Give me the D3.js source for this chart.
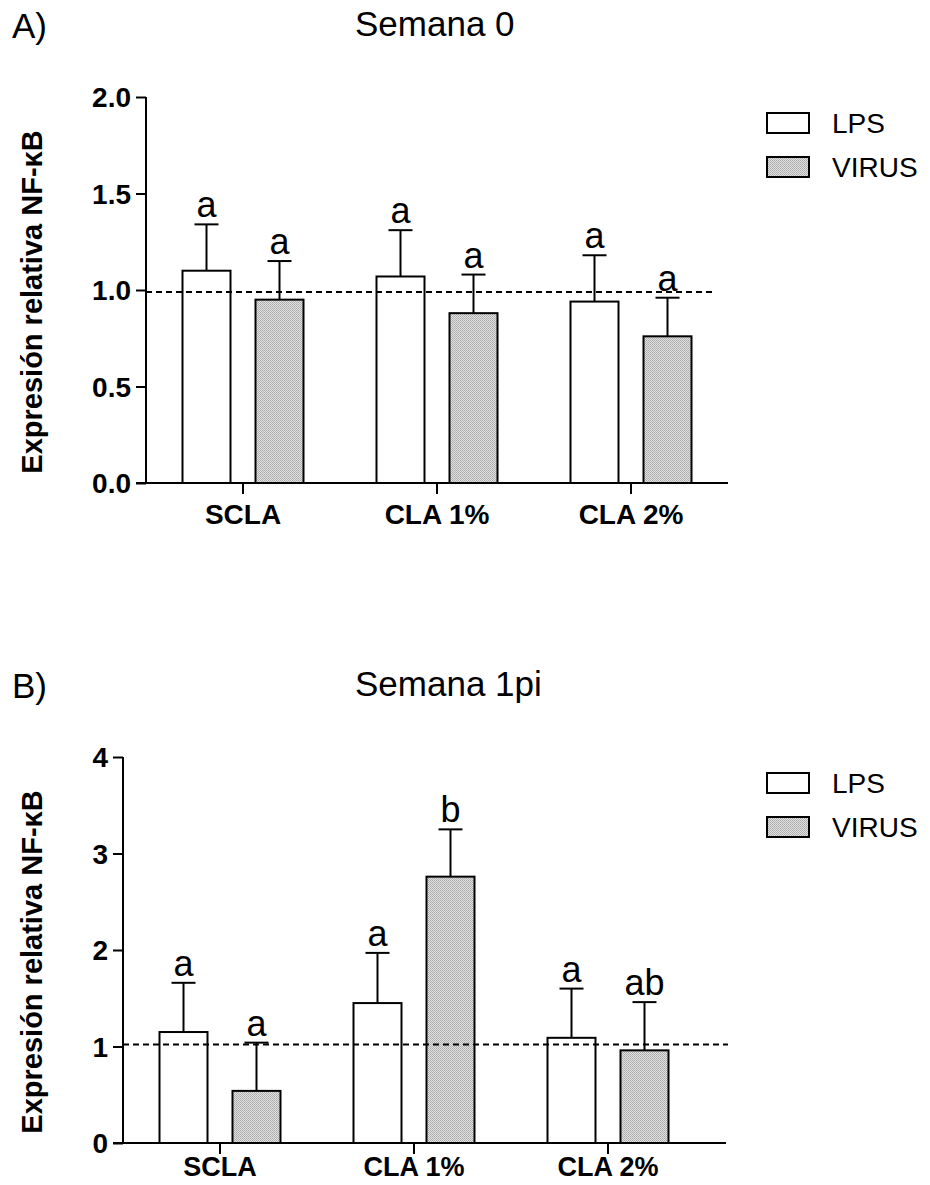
<!DOCTYPE html>
<html>
<head>
<meta charset="utf-8">
<script src="https://cdn.jsdelivr.net/npm/d3@7"></script>
<style>
  html, body { margin: 0; padding: 0; background: #fff; }
  svg { display: block; }
  text { font-family: "Liberation Sans", Arial, Helvetica, sans-serif; fill: #000; }
</style>
</head>
<body>
<svg id="chart" width="930" height="1185"></svg>
<script>
// ---------- DATA ----------
const categories = ["SCLA", "CLA 1%", "CLA 2%"];
const seriesNames = ["LPS", "VIRUS"];

// Panel A: Semana 0
const week0LPS = [1.10, 1.07, 0.94];
const week0LPSsem = [0.24, 0.24, 0.24];
const week0VIRUS = [0.95, 0.88, 0.76];
const week0VIRUSsem = [0.20, 0.20, 0.20];
const week0LPSletters = ["a", "a", "a"];
const week0VIRUSletters = ["a", "a", "a"];
const week0Ticks = [0, 0.5, 1.0, 1.5, 2.0];
const week0TickLabels = ["0.0", "0.5", "1.0", "1.5", "2.0"];
const week0Ref = 0.99;

// Panel B: Semana 1pi
const week1LPS = [1.15, 1.45, 1.09];
const week1LPSsem = [0.51, 0.52, 0.51];
const week1VIRUS = [0.54, 2.76, 0.96];
const week1VIRUSsem = [0.50, 0.49, 0.50];
const week1LPSletters = ["a", "a", "a"];
const week1VIRUSletters = ["a", "b", "ab"];
const week1Ticks = [0, 1, 2, 3, 4];
const week1TickLabels = ["0", "1", "2", "3", "4"];
const week1Ref = 1.02;

const yLabel = "Expresión relativa NF-κB";

// ---------- DRAW ----------
const svg = d3.select("#chart");
const defs = svg.append("defs");
const pat = defs.append("pattern")
  .attr("id", "hatch").attr("patternUnits", "userSpaceOnUse")
  .attr("width", 2).attr("height", 2);
pat.append("rect").attr("width", 2).attr("height", 2).attr("fill", "#e2e2e2");
pat.append("rect").attr("x", 0).attr("y", 0).attr("width", 1).attr("height", 1).attr("fill", "#a8a8a8");
pat.append("rect").attr("x", 1).attr("y", 1).attr("width", 1).attr("height", 1).attr("fill", "#b4b4b4");

const fills = { LPS: "#ffffff", VIRUS: "url(#hatch)" };

function panel(cfg) {
  const g = svg.append("g");
  const x0 = d3.scaleBand().domain(categories).range([cfg.left, cfg.right]).padding(0);
  const x1 = d3.scaleBand().domain(seriesNames).range([0, x0.bandwidth()])
    .paddingInner(0.3425).paddingOuter(0.5);
  const y = d3.scaleLinear().domain(cfg.domain).range([cfg.bottom, cfg.top]);

  // panel letter and title
  g.append("text").attr("x", 12).attr("y", cfg.titleY)
    .style("font-size", "35px").text(cfg.letter);
  g.append("text").attr("x", 355).attr("y", cfg.titleY - 2)
    .style("font-size", "35px").text(cfg.title);

  // y axis label
  g.append("text")
    .attr("transform", `translate(42,${(cfg.top + cfg.bottom) / 2 + 12}) rotate(-90)`)
    .attr("text-anchor", "middle")
    .style("font-size", "29px").style("font-weight", "bold")
    .text(yLabel);

  // build rows
  const rows = [];
  categories.forEach((c, i) => {
    rows.push({ cat: c, s: "LPS", v: cfg.lps[i], e: cfg.lpsSem[i], l: cfg.lpsLetters[i] });
    rows.push({ cat: c, s: "VIRUS", v: cfg.virus[i], e: cfg.virusSem[i], l: cfg.virusLetters[i] });
  });
  const cx = d => x0(d.cat) + x1(d.s) + x1.bandwidth() / 2;

  // error bars (behind bars)
  const eg = g.append("g").attr("stroke", "#000").attr("stroke-width", 2);
  rows.forEach(d => {
    eg.append("line").attr("x1", cx(d)).attr("x2", cx(d))
      .attr("y1", y(d.v)).attr("y2", y(d.v + d.e));
    eg.append("line").attr("x1", cx(d) - 12).attr("x2", cx(d) + 12)
      .attr("y1", y(d.v + d.e)).attr("y2", y(d.v + d.e));
  });

  // bars
  g.append("g").selectAll("rect").data(rows).join("rect")
    .attr("x", d => x0(d.cat) + x1(d.s))
    .attr("y", d => y(d.v))
    .attr("width", x1.bandwidth())
    .attr("height", d => y(0) - y(d.v))
    .attr("fill", d => fills[d.s])
    .attr("stroke", "#000").attr("stroke-width", 2);

  // significance letters
  g.append("g").selectAll("text").data(rows).join("text")
    .attr("x", d => cx(d)).attr("y", d => y(d.v + d.e) - 7)
    .attr("text-anchor", "middle")
    .style("font-size", "36px")
    .text(d => d.l);

  // reference dashed line
  g.append("line")
    .attr("x1", cfg.left).attr("x2", cfg.refEnd)
    .attr("y1", y(cfg.ref)).attr("y2", y(cfg.ref))
    .attr("stroke", "#000").attr("stroke-width", 2)
    .attr("stroke-dasharray", "6,4");

  // y axis
  const yAxis = d3.axisLeft(y).tickValues(cfg.ticks)
    .tickFormat((d, i) => cfg.tickLabels[i]).tickSize(10).tickPadding(5);
  const ya = g.append("g").attr("transform", `translate(${cfg.left},0)`).call(yAxis);
  ya.select(".domain").attr("stroke-width", 2).attr("d", `M0,${cfg.top}V${cfg.bottom}`);
  ya.selectAll(".tick line").attr("stroke-width", 2);
  ya.selectAll(".tick text").style("font-size", "28px").style("font-weight", "bold")
    .style("font-family", '"Liberation Sans", Arial, sans-serif').attr("dy", "0.35em");

  // x axis
  const xAxis = d3.axisBottom(x0).tickSize(11).tickPadding(cfg.xPad).tickSizeOuter(0);
  const xa = g.append("g").attr("transform", `translate(0,${cfg.bottom})`).call(xAxis);
  xa.select(".domain").attr("stroke-width", 2)
    .attr("d", `M${cfg.left - 10},0H${cfg.axisEnd}`);
  xa.selectAll(".tick line").attr("stroke-width", 2);
  xa.selectAll(".tick text").style("font-size", cfg.xFont).style("font-weight", "bold")
    .style("font-family", '"Liberation Sans", Arial, sans-serif');

  // legend
  const lg = g.append("g");
  seriesNames.forEach((s, i) => {
    const ty = cfg.top + 16 + i * 44;
    lg.append("rect").attr("x", 767).attr("y", ty).attr("width", 42).attr("height", 20)
      .attr("fill", fills[s]).attr("stroke", "#000").attr("stroke-width", 2);
    lg.append("text").attr("x", 832).attr("y", ty + 20)
      .style("font-size", "28px").text(s);
  });
}

panel({
  letter: "A)", title: "Semana 0", titleY: 38,
  left: 146, right: 728, axisEnd: 728, refEnd: 713, xPad: 10, xFont: "28px",
  top: 97, bottom: 483, domain: [0, 2],
  lps: week0LPS, lpsSem: week0LPSsem, virus: week0VIRUS, virusSem: week0VIRUSsem,
  lpsLetters: week0LPSletters, virusLetters: week0VIRUSletters,
  ticks: week0Ticks, tickLabels: week0TickLabels, ref: week0Ref
});

panel({
  letter: "B)", title: "Semana 1pi", titleY: 698,
  left: 123, right: 705, axisEnd: 726, refEnd: 728, xPad: 3, xFont: "27px",
  top: 757, bottom: 1143, domain: [0, 4],
  lps: week1LPS, lpsSem: week1LPSsem, virus: week1VIRUS, virusSem: week1VIRUSsem,
  lpsLetters: week1LPSletters, virusLetters: week1VIRUSletters,
  ticks: week1Ticks, tickLabels: week1TickLabels, ref: week1Ref
});
</script>
</body>
</html>
